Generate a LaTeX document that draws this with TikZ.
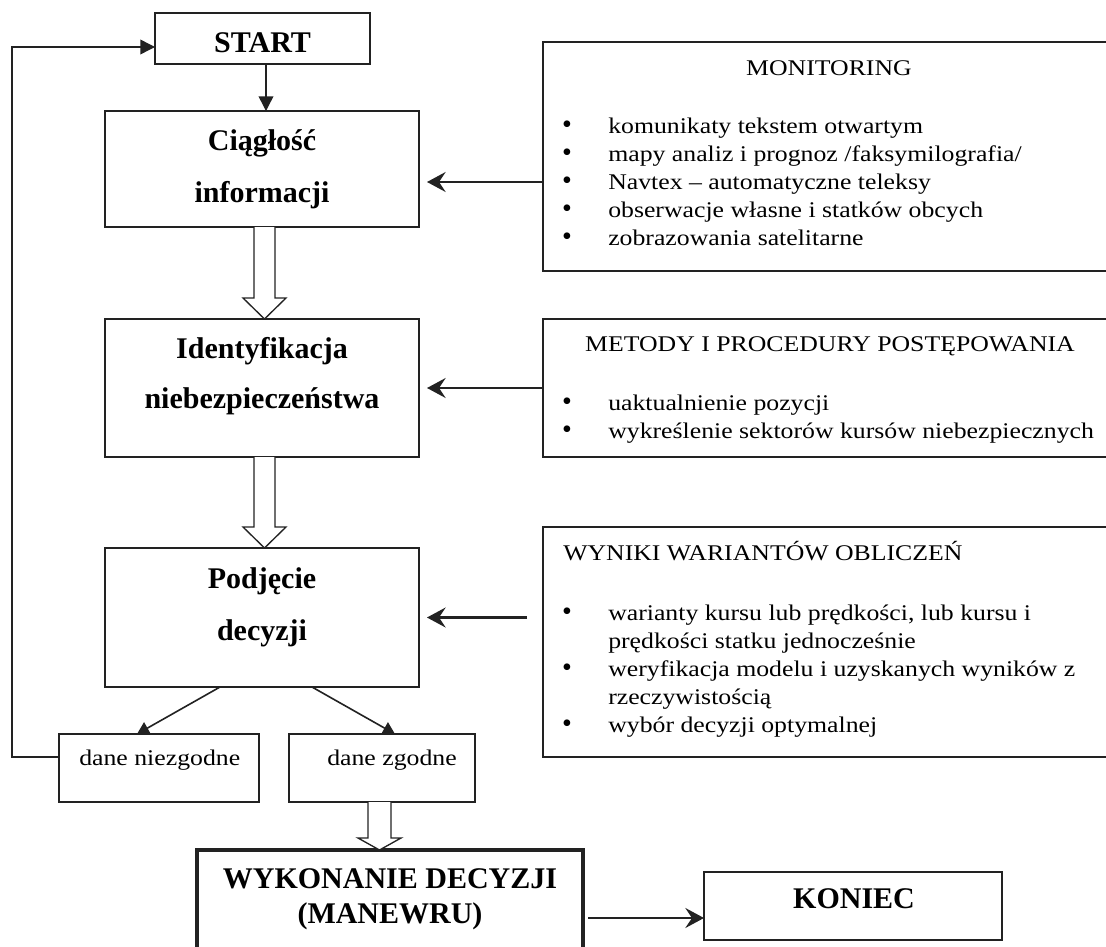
\documentclass[tikz,border=0pt]{standalone}
\usepackage{fontspec}
\setmainfont{Liberation Serif}
\newfontfamily\wideserif{Liberation Serif}[FakeStretch=1.15]
\usetikzlibrary{arrows.meta,calc}
\definecolor{linec}{HTML}{222222}
\tikzset{
  box/.style={draw=linec, line width=1.1pt, inner sep=0pt, outer sep=0pt},
  thickbox/.style={draw=linec, line width=2.3pt, inner sep=0pt, outer sep=0pt},
  ttl/.style={font=\fontsize{22.5}{27}\selectfont\bfseries, inner sep=0pt, anchor=base},
  body/.style={font=\wideserif\fontsize{16.8}{21}\selectfont, inner sep=0pt, anchor=base west},
  bodyc/.style={font=\wideserif\fontsize{16.8}{21}\selectfont, inner sep=0pt, anchor=base},
  bul/.style={font=\fontsize{21}{21}\selectfont, inner sep=0pt, anchor=base},
  sarrow/.style={draw=linec, line width=1.6pt, -{Stealth[length=14pt,width=15pt,inset=5pt]}},
  tarrow/.style={draw=linec, line width=1.1pt, -{Triangle[length=11pt,width=11pt]}},
  darrow/.style={draw=linec, line width=1.2pt, -{Triangle[length=9pt,width=10pt]}},
  hollowarr/.style={draw=linec, line width=1pt, fill=white, line join=miter},
}
\newcommand\boxnode[6][box]{\node[#1, minimum width={(#4-#2)*0.75pt}, minimum height={(#5-#3)*0.75pt}] (#6) at ({(#2+#4)/2},{(#3+#5)/2}) {};}
\begin{document}
\begin{tikzpicture}[x=0.75pt,y=-0.75pt]
\useasboundingbox (0,0) rectangle (1106,946);
\clip (0,0) rectangle (1106,946);
\fill[white] (0,0) rectangle (1106,946);

% left column boxes
\boxnode{155}{13}{370}{64}{start}
\boxnode{105}{111}{419}{227}{cig}
\boxnode{105}{319}{419}{457}{ide}
\boxnode{105}{548}{419}{687}{pod}
\boxnode{59}{734}{259}{802}{dn}
\boxnode{289}{734}{475}{802}{dz}
\boxnode[thickbox]{197}{850}{583}{965}{wyk}
\boxnode{704}{872}{1002}{940}{kon}

% right boxes
\boxnode{543}{42}{1125}{271}{mon}
\boxnode{543}{319}{1125}{457}{met}
\boxnode{543}{527}{1125}{757}{wyn}

% bold titles
\node[ttl] (tstart) at (262.5,52) {START};
\node[ttl] (tcig1) at (262,150) {Ciągłość};
\node[ttl] (tcig2) at (262,202) {informacji};
\node[ttl] (tide1) at (262,358) {Identyfikacja};
\node[ttl] (tide2) at (262,408) {niebezpieczeństwa};
\node[ttl] (tpod1) at (262,588) {Podjęcie};
\node[ttl] (tpod2) at (262,640) {decyzji};
\node[ttl] (twyk1) at (390,888) {WYKONANIE DECYZJI};
\node[ttl] (twyk2) at (390,923) {(MANEWRU)};
\node[ttl] (tkon) at (854,908) {KONIEC};

% small boxes
\node[body] (tdn) at (79,765) {dane niezgodne};
\node[body] (tdz) at (327,765) {dane zgodne};

% monitoring
\node[bodyc] (tmon) at (829,75) {MONITORING};
\foreach \yy/\tt [count=\i] in {133/{komunikaty tekstem otwartym},
  161.5/{mapy analiz i prognoz /faksymilografia/},
  189.5/{Navtex – automatyczne teleksy},
  217/{obserwacje własne i statków obcych},
  245/{zobrazowania satelitarne}}{
  \node[bul] (mb\i) at (567,\yy) {\textbullet};
  \node[body] (mt\i) at (608,\yy) {\tt};
}

% metody
\node[bodyc] (tmet) at (830,351) {METODY I PROCEDURY POSTĘPOWANIA};
\foreach \yy/\tt [count=\i] in {410/{uaktualnienie pozycji},
  438/{wykreślenie sektorów kursów niebezpiecznych}}{
  \node[bul] (eb\i) at (567,\yy) {\textbullet};
  \node[body] (et\i) at (608,\yy) {\tt};
}

% wyniki
\node[body] (twyn) at (563,560) {WYNIKI WARIANTÓW OBLICZEŃ};
\node[bul] (wb1) at (567,620) {\textbullet};
\node[body] (wt1) at (608,620) {warianty kursu lub prędkości, lub kursu i};
\node[body] (wt1b) at (608,648) {prędkości statku jednocześnie};
\node[bul] (wb2) at (567,676) {\textbullet};
\node[body] (wt2) at (608,676) {weryfikacja modelu i uzyskanych wyników z};
\node[body] (wt2b) at (608,704) {rzeczywistością};
\node[bul] (wb3) at (567,732) {\textbullet};
\node[body] (wt3) at (608,732) {wybór decyzji optymalnej};

% connectors
\coordinate (L1) at (12,757);
\coordinate (L2) at (12,47);
\draw[tarrow] ($(dn.west)+(0,-11)$) -- (L1) -- (L2) -- (start.west |- L2);
\draw[tarrow] ($(start.south)+(3.5,0)$) -- ($(cig.north)+(4,0)$);

\draw[sarrow, shorten >=6pt] ($(mon.west)+(0,25.5)$) -- ($(cig.east |- mon.west)+(0,25.5)$);
\draw[sarrow, shorten >=6pt] (met.west |- ide.east) -- (ide.east);
\draw[sarrow, shorten >=6pt] ($(wyn.west |- pod.east)+(-16,0)$) -- (pod.east);
\draw[sarrow] ($(wyk.east |- kon.west)+(5,12)$) -- ($(kon.west)+(0,12)$);

\draw[darrow] ($(pod.south)+(-42,0)$) -- ($(dn.north)+(-22,0)$);
\draw[darrow] ($(pod.south)+(50,0)$) -- ($(dz.north)+(13,0)$);

% hollow block arrows
\draw[hollowarr] ($(cig.south)+(-8,0)$) -- ($(ide.north)+(-8,-21)$) -- ($(ide.north)+(-19,-21)$)
  -- ($(ide.north)+(2.5,0)$) -- ($(ide.north)+(24,-21)$) -- ($(ide.north)+(13,-21)$) -- ($(cig.south)+(13,0)$);
\draw[hollowarr] ($(ide.south)+(-8,0)$) -- ($(pod.north)+(-8,-21)$) -- ($(pod.north)+(-19,-21)$)
  -- ($(pod.north)+(2.5,0)$) -- ($(pod.north)+(24,-21)$) -- ($(pod.north)+(13,-21)$) -- ($(ide.south)+(13,0)$);
\draw[hollowarr] ($(dz.south)+(-14,0)$) -- ($(wyk.north)+(-22,-12)$) -- ($(wyk.north)+(-32,-12)$)
  -- ($(wyk.north)+(-10.5,0)$) -- ($(wyk.north)+(11,-12)$) -- ($(wyk.north)+(1,-12)$) -- ($(dz.south)+(9,0)$);
\end{tikzpicture}
\end{document}
